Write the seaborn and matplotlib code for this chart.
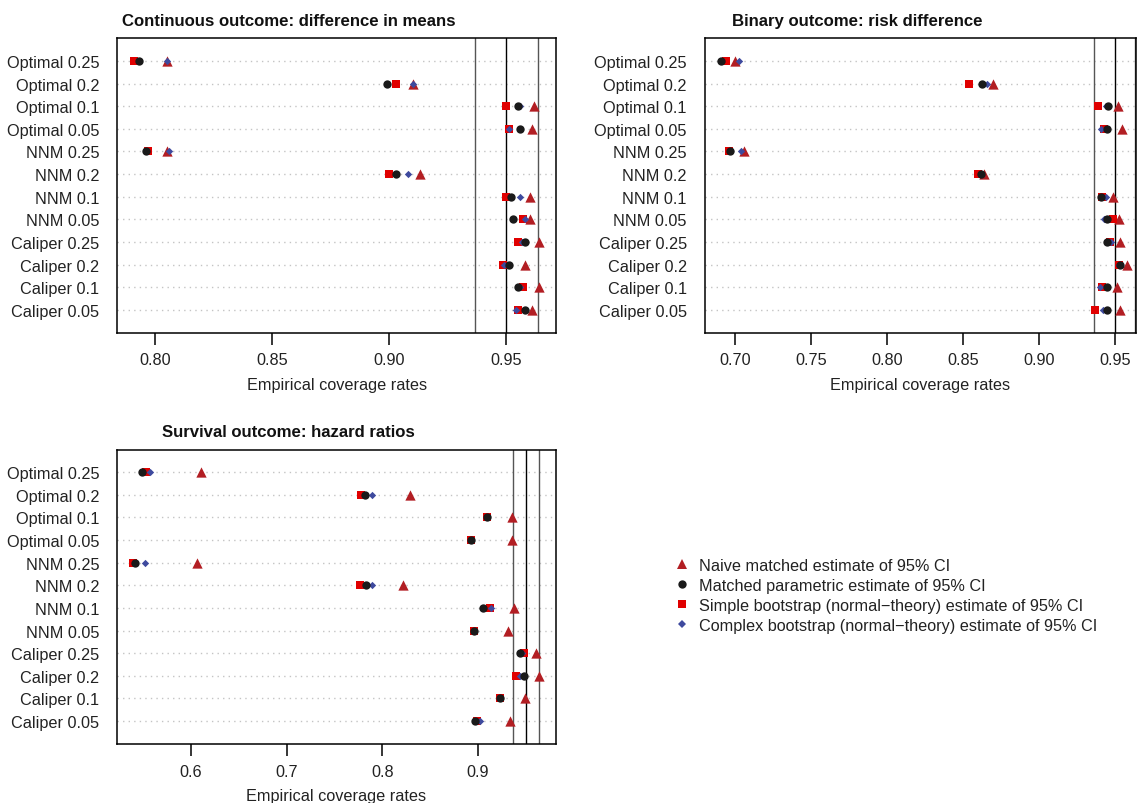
import numpy as np
import pandas as pd
import matplotlib
matplotlib.use("Agg")
import matplotlib.pyplot as plt
import seaborn as sns
from matplotlib.lines import Line2D

# ---------------- data ----------------
row_labels = ["Optimal 0.25", "Optimal 0.2", "Optimal 0.1", "Optimal 0.05",
              "NNM 0.25", "NNM 0.2", "NNM 0.1", "NNM 0.05",
              "Caliper 0.25", "Caliper 0.2", "Caliper 0.1", "Caliper 0.05"]

methods = ["Naive matched estimate of 95% CI",
           "Matched parametric estimate of 95% CI",
           "Simple bootstrap (normal\u2212theory) estimate of 95% CI",
           "Complex bootstrap (normal\u2212theory) estimate of 95% CI"]

cont_naive = [0.805, 0.910, 0.962, 0.961, 0.805, 0.913, 0.960, 0.960, 0.964, 0.958, 0.964, 0.961]
cont_param = [0.793, 0.899, 0.955, 0.956, 0.796, 0.903, 0.952, 0.953, 0.958, 0.951, 0.955, 0.958]
cont_simple = [0.791, 0.903, 0.950, 0.951, 0.797, 0.900, 0.950, 0.957, 0.955, 0.9486, 0.957, 0.955]
cont_complex = [0.805, 0.910, 0.956, 0.951, 0.806, 0.908, 0.956, 0.958, 0.9566, 0.949, 0.956, 0.954]

bin_naive = [0.700, 0.870, 0.952, 0.9546, 0.7058, 0.864, 0.949, 0.9528, 0.9537, 0.958, 0.9517, 0.9535]
bin_param = [0.6906, 0.8628, 0.9458, 0.9447, 0.6966, 0.8617, 0.941, 0.9447, 0.945, 0.9535, 0.945, 0.945]
bin_simple = [0.694, 0.854, 0.939, 0.943, 0.696, 0.8597, 0.9416, 0.9487, 0.947, 0.9526, 0.9418, 0.937]
bin_complex = [0.7027, 0.8657, 0.944, 0.941, 0.704, 0.862, 0.9445, 0.943, 0.9478, 0.953, 0.940, 0.9423]

surv_naive = [0.6102, 0.8289, 0.9352, 0.9352, 0.606, 0.822, 0.938, 0.9317, 0.961, 0.9637, 0.949, 0.9338]
surv_param = [0.5492, 0.7819, 0.9094, 0.8924, 0.5416, 0.783, 0.905, 0.896, 0.9439, 0.948, 0.9233, 0.897]
surv_simple = [0.5531, 0.7774, 0.9094, 0.8924, 0.5392, 0.7767, 0.9125, 0.896, 0.948, 0.9397, 0.9233, 0.8986]
surv_complex = [0.5573, 0.7892, 0.909, 0.893, 0.552, 0.789, 0.914, 0.896, 0.946, 0.944, 0.923, 0.902]

panel_titles = ["Continuous outcome: difference in means",
                "Binary outcome: risk difference",
                "Survival outcome: hazard ratios"]
ref_lines = [0.9365, 0.95, 0.9635]
xticks_cont = [0.80, 0.85, 0.90, 0.95]
xticks_bin = [0.70, 0.75, 0.80, 0.85, 0.90, 0.95]
xticks_surv = [0.6, 0.7, 0.8, 0.9]

# ---------------- style ----------------
sns.set_style("white")
plt.rcParams["font.family"] = ["Liberation Sans", "DejaVu Sans"]
FS = 11.7

markers = {methods[0]: "^", methods[1]: "o", methods[2]: "s", methods[3]: "D"}
colors = {methods[0]: "#B21E23", methods[1]: "#1A1A1A", methods[2]: "#E00000", methods[3]: "#3E4A9E"}
sizes = {methods[0]: 55, methods[1]: 36, methods[2]: 36, methods[3]: 14}
draw_order = [methods[0], methods[2], methods[3], methods[1]]


def make_df(series):
    n = len(row_labels)
    frames = []
    for m, vals in zip(methods, series):
        frames.append(pd.DataFrame({"label": row_labels, "pos": np.arange(n, 0, -1),
                                    "coverage": vals, "method": m}))
    return pd.concat(frames, ignore_index=True)


panels = [
    (make_df([cont_naive, cont_param, cont_simple, cont_complex]), xticks_cont, "%.2f",
     (0.7839, 0.9712), [117.3, 39.3, 556.0, 333.5], 288.4, 26.0),
    (make_df([bin_naive, bin_param, bin_simple, bin_complex]), xticks_bin, "%.2f",
     (0.6800, 0.9638), [704.7, 39.3, 1135.7, 333.5], 857.0, 26.0),
    (make_df([surv_naive, surv_param, surv_simple, surv_complex]), xticks_surv, "%.1f",
     (0.5230, 0.9812), [117.3, 450.5, 555.7, 744.7], 288.4, 437.2),
]

W, H = 1137, 804
fig = plt.figure(figsize=(W / 100, H / 100), dpi=100)

for (df, ticks, fmt, xlim, box, tx, ty), title in zip(panels, panel_titles):
    l, t, r, b = box
    ax = fig.add_axes([l / W, 1 - b / H, (r - l) / W, (b - t) / H])
    n = len(row_labels)
    for p in range(1, n + 1):
        ax.axhline(p, color="#C4C4C4", lw=1.0, ls=(0, (1, 3)), zorder=1)
    for v in ref_lines:
        ax.axvline(v, color="black" if v == 0.95 else "#555555", lw=1.0, zorder=1.5)
    for m in draw_order:
        sns.scatterplot(data=df[df["method"] == m], x="coverage", y="pos",
                        marker=markers[m], color=colors[m], s=sizes[m],
                        linewidth=0, ax=ax, legend=False, zorder=3)
    ax.set_xlim(*xlim)
    ax.set_ylim(0, n + 1)
    ax.set_yticks(np.arange(n, 0, -1))
    ax.set_yticklabels(row_labels, fontsize=FS)
    ax.tick_params(axis="y", left=False, length=0, pad=13, labelcolor="#222222")
    ax.set_xticks(ticks)
    ax.set_xticklabels([fmt % v for v in ticks], fontsize=FS)
    ax.tick_params(axis="x", bottom=True, direction="out", length=8.3, width=1.1, pad=6,
                   color="black", labelcolor="#222222")
    ax.set_xlabel("Empirical coverage rates", fontsize=FS, labelpad=7, color="#222222")
    ax.set_ylabel("")
    for s in ax.spines.values():
        s.set_visible(True)
        s.set_color("black")
        s.set_linewidth(1.1)
    fig.text(tx / W, 1 - ty / H, title, ha="center", va="baseline",
             fontsize=12.1, fontweight="bold", color="#111111")

handles = [Line2D([0], [0], marker=markers[m], color=colors[m], linestyle="none",
                  markersize={"^": 7.5, "o": 6, "s": 6, "D": 3.8}[markers[m]], markeredgewidth=0)
           for m in methods]
fig.legend(handles, methods, loc="upper left", bbox_to_anchor=(676.0 / W, 1 - 559.0 / H),
           frameon=False, fontsize=FS, handlelength=0.8, handletextpad=0.6,
           labelspacing=0.3, borderpad=0, borderaxespad=0, labelcolor="#222222")

fig.savefig("out.png", dpi=100)
